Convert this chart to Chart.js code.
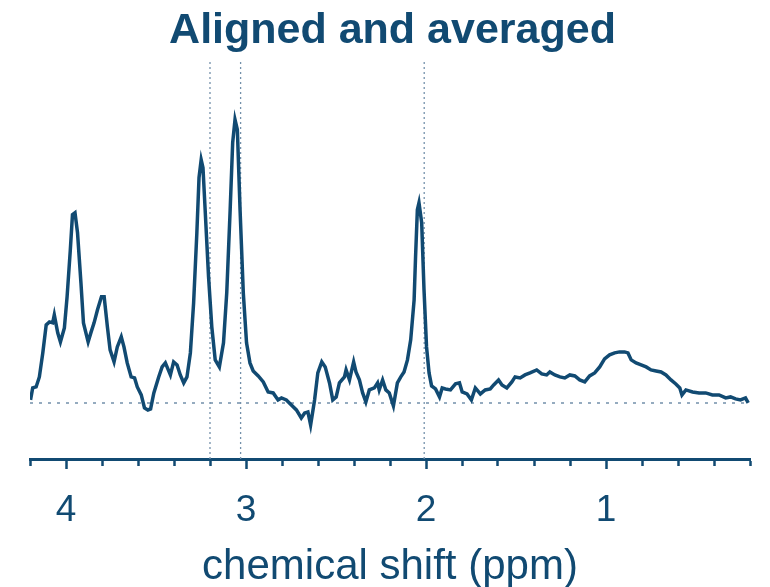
<!DOCTYPE html>
<html>
<head>
<meta charset="utf-8">
<title>Aligned and averaged</title>
<script src="https://cdn.jsdelivr.net/npm/chart.js@4.4.1/dist/chart.umd.min.js"></script>
<style>
  html, body { margin: 0; padding: 0; background: #fff; }
</style>
</head>
<body>
<canvas id="myChart" width="770" height="587"></canvas>
<script>
// spectrum (ppm, arbitrary intensity, baseline = 0)
const shift_ppm = [4.197,4.185,4.166,4.148,4.129,4.110,4.092,4.074,4.065,4.046,4.031,4.009,3.994,3.976,3.964,3.950,3.936,3.917,3.903,3.877,
    3.862,3.844,3.825,3.803,3.788,3.770,3.755,3.733,3.715,3.693,3.678,3.660,3.638,3.619,3.604,3.582,3.564,3.545,3.530,3.512,
    3.485,3.466,3.448,3.420,3.402,3.383,3.365,3.346,3.328,3.309,3.291,3.273,3.261,3.249,3.239,3.227,3.208,3.190,3.171,3.148,
    3.125,3.107,3.088,3.074,3.061,3.048,3.033,3.015,2.997,2.978,2.960,2.932,2.904,2.877,2.849,2.822,2.803,2.776,2.748,2.720,
    2.693,2.674,2.656,2.641,2.619,2.601,2.579,2.560,2.536,2.518,2.499,2.481,2.453,2.444,2.425,2.402,2.389,2.370,2.352,2.334,
    2.315,2.287,2.269,2.260,2.241,2.223,2.204,2.181,2.159,2.140,2.122,2.103,2.085,2.066,2.058,2.048,2.039,2.024,2.011,1.997,
    1.983,1.969,1.947,1.925,1.910,1.892,1.864,1.836,1.814,1.799,1.772,1.748,1.726,1.698,1.671,1.643,1.624,1.597,1.578,1.551,
    1.523,1.505,1.477,1.450,1.422,1.385,1.357,1.330,1.312,1.284,1.256,1.229,1.201,1.173,1.146,1.118,1.091,1.063,1.035,1.008,
    0.980,0.952,0.925,0.897,0.878,0.860,0.833,0.805,0.777,0.750,0.722,0.694,0.667,0.639,0.612,0.590,0.578,0.556,0.519,0.483,
    0.446,0.409,0.372,0.335,0.308,0.280,0.253,0.225,0.210];

const intensity = [3,15,16,26,50,78,81,80,88,70,61,75,106,153,188,190,170,120,80,61,
    70,80,93,106,106,76,53,41,56,66,56,40,26,25,16,8,-5,-7,-6,10,
    26,36,40,28,41,38,28,20,26,50,100,170,225,243,235,193,126,76,43,36,
    60,110,193,260,283,273,193,110,60,40,32,27,21,11,10,3,5,3,-2,-7,
    -15,-10,-9,-22,3,30,41,36,20,3,6,20,26,33,23,41,31,23,10,1,
    13,15,20,13,23,13,10,-3,20,26,31,43,63,103,146,193,200,180,113,56,
    30,17,14,6,15,14,13,19,20,11,9,3,15,9,13,14,18,23,18,15,
    21,26,25,28,30,33,29,28,31,28,26,25,28,27,23,21,27,30,36,44,
    48,50,51,51,50,43,40,38,36,33,32,31,28,23,19,15,8,13,11,10,
    10,8,8,5,6,4,3,5,0];

// dotted reference lines
const marker_ppm = [3.20, 3.03, 2.01];
const tick_labels = ['4', '3', '2', '1'];

const x_min = 0.2, x_max = 4.2;
const y_min = -56, y_max = 341;

const navy = '#114a72';
const dotted = '#7390aa';

const spectrum = [];
for (let i = 0; i < Math.min(shift_ppm.length, intensity.length); i++) {
    spectrum.push({x: shift_ppm[i], y: intensity[i]});
}

const datasets = [{
    label: 'spectrum',
    data: spectrum,
    borderColor: navy,
    borderWidth: 3.5,
    pointRadius: 0,
    tension: 0
}, {
    label: 'baseline',
    data: [{x: x_max, y: 0}, {x: x_min, y: 0}],
    borderColor: dotted,
    borderWidth: 1.6,
    borderDash: [3, 6],
    pointRadius: 0
}];

marker_ppm.forEach((p) => {
    datasets.push({
        label: 'marker ' + p,
        data: [{x: p, y: y_min}, {x: p, y: y_max}],
        borderColor: dotted,
        borderWidth: 1.3,
        borderDash: [2, 3],
        pointRadius: 0
    });
});

function is_major(v) {
    return Math.abs(v - Math.round(v)) < 1e-6;
}

const ctx = document.getElementById('myChart').getContext('2d');
const myChart = new Chart(ctx, {
    type: 'line',
    data: {datasets: datasets},
    options: {
        responsive: false,
        animation: false,
        layout: {padding: {left: 30, right: 15, top: 0, bottom: 0}},
        plugins: {
            legend: {display: false},
            tooltip: {enabled: false},
            title: {
                display: true,
                text: 'Aligned and averaged',
                color: navy,
                font: {family: 'Liberation Sans, Arial', size: 43, weight: 'bold'},
                padding: {top: 5, bottom: 5}
            }
        },
        scales: {
            x: {
                type: 'linear',
                reverse: true,
                min: x_min,
                max: x_max,
                afterFit: (scale) => { scale.height = 128; },
                border: {display: true, color: navy, width: 3},
                grid: {
                    drawOnChartArea: false,
                    drawTicks: true,
                    tickLength: 10,
                    tickWidth: 2.5,
                    tickColor: navy,
                    tickBorderDash: (c) => (c.tick && is_major(c.tick.value)) ? [] : [5, 40]
                },
                ticks: {
                    stepSize: 0.2,
                    autoSkip: false,
                    maxRotation: 0,
                    padding: 20,
                    color: navy,
                    font: {family: 'Liberation Sans, Arial', size: 37},
                    callback: (v) => {
                        if (!is_major(v)) return '';
                        const s = String(Math.round(v));
                        return tick_labels.includes(s) ? s : '';
                    }
                },
                title: {
                    display: true,
                    text: 'chemical shift (ppm)',
                    color: navy,
                    font: {family: 'Liberation Sans, Arial', size: 42},
                    padding: {top: 0, bottom: -6}
                }
            },
            y: {
                display: false,
                min: y_min,
                max: y_max
            }
        }
    }
});
</script>
</body>
</html>
